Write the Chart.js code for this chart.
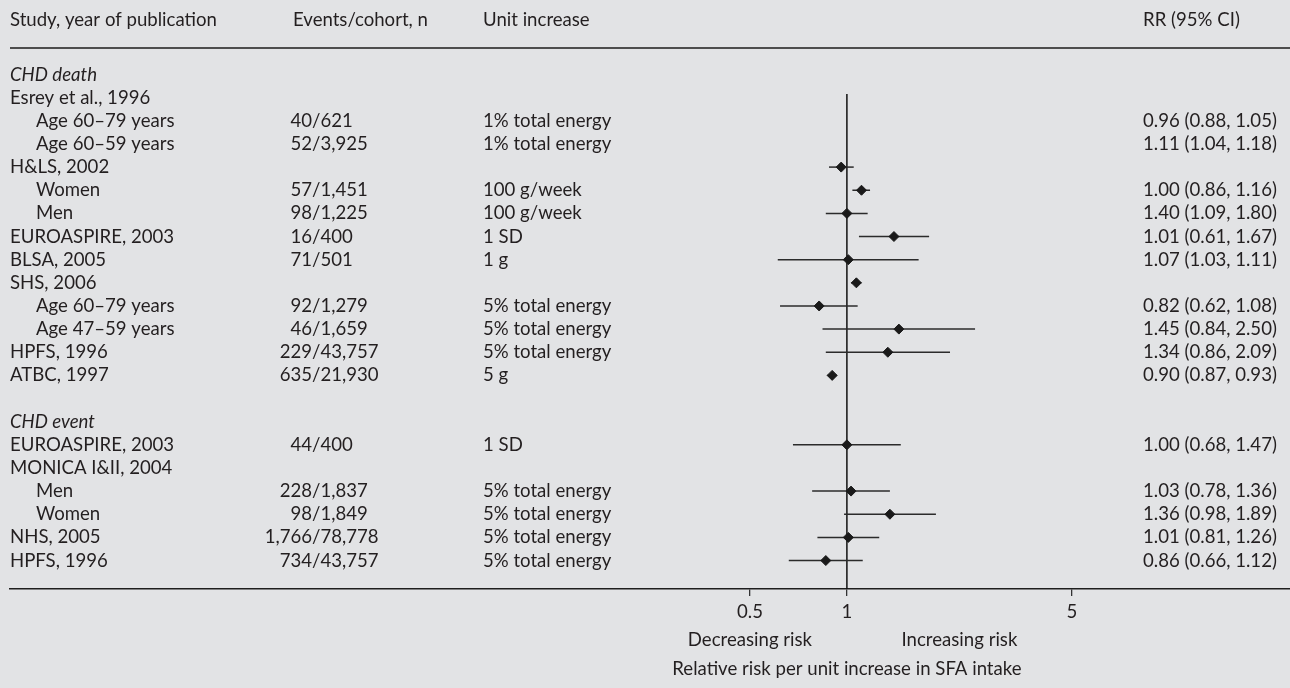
<!DOCTYPE html>
<html>
<head>
<meta charset="utf-8">
<script src="https://cdn.jsdelivr.net/npm/chart.js@4.4.1/dist/chart.umd.min.js"></script>
<style>
  html, body { margin: 0; padding: 0; background: #e2e3e5; }
  canvas { display: block; }
</style>
</head>
<body>
<canvas id="forest" width="1290" height="688"></canvas>
<script>
// table rows, top to bottom
const rowLabels = ['CHD death', 'Esrey et al., 1996', 'Age 60–79 years', 'Age 60–59 years', 'H&LS, 2002', 'Women', 'Men',
  'EUROASPIRE, 2003', 'BLSA, 2005', 'SHS, 2006', 'Age 60–79 years', 'Age 47–59 years', 'HPFS, 1996', 'ATBC, 1997', '',
  'CHD event', 'EUROASPIRE, 2003', 'MONICA I&II, 2004', 'Men', 'Women', 'NHS, 2005', 'HPFS, 1996'];
const sectionRows = [0, 15];
const indentRows = [2, 3, 5, 6, 10, 11, 18, 19];
const headers = ['Study, year of publication', 'Events/cohort, n', 'Unit increase', 'RR (95% CI)'];

// rows that carry the events / unit / RR text
const textRows = [2, 3, 5, 6, 7, 8, 10, 11, 12, 13, 16, 18, 19, 20, 21];
const events = ['40/621', '52/3,925', '57/1,451', '98/1,225', '16/400', '71/501', '92/1,279', '46/1,659',
  '229/43,757', '635/21,930', '44/400', '228/1,837', '98/1,849', '1,766/78,778', '734/43,757'];
const units = ['1% total energy', '1% total energy', '100 g/week', '100 g/week', '1 SD', '1 g', '5% total energy',
  '5% total energy', '5% total energy', '5 g', '1 SD', '5% total energy', '5% total energy', '5% total energy', '5% total energy'];
const rr = [0.96, 1.11, 1.00, 1.40, 1.01, 1.07, 0.82, 1.45, 1.34, 0.90, 1.00, 1.03, 1.36, 1.01, 0.86];
const ciLow = [0.88, 1.04, 0.86, 1.09, 0.61, 1.03, 0.62, 0.84, 0.86, 0.87, 0.68, 0.78, 0.98, 0.81, 0.66];
const ciHigh = [1.05, 1.18, 1.16, 1.80, 1.67, 1.11, 1.08, 2.50, 2.09, 0.93, 1.47, 1.36, 1.89, 1.26, 1.12];
// rows where the diamonds sit in the figure
const pointRows = [4, 5, 6, 7, 8, 9, 10, 11, 12, 13, 16, 18, 19, 20, 21];
const tickValues = [0.5, 1, 5];

const ink = '#231f20';
const fontFamily = 'Lato';
const fontSize = 18.6;
Chart.defaults.font.family = fontFamily;

const fmt = v => v.toFixed(2);

const forestPlugin = {
  id: 'forest',
  beforeDatasetsDraw(chart) {
    const { ctx, scales: { x, y }, chartArea } = chart;
    ctx.save();
    // line of no effect
    const x1 = x.getPixelForValue(1);
    ctx.strokeStyle = '#111';
    ctx.lineWidth = 1.5;
    ctx.beginPath();
    ctx.moveTo(x1, y.getPixelForValue(0.84));
    ctx.lineTo(x1, chartArea.bottom);
    ctx.stroke();
    // confidence intervals
    ctx.strokeStyle = '#2b2b2b';
    ctx.lineWidth = 1.5;
    pointRows.forEach((r, i) => {
      const py = y.getPixelForValue(r);
      ctx.beginPath();
      ctx.moveTo(x.getPixelForValue(ciLow[i]), py);
      ctx.lineTo(x.getPixelForValue(ciHigh[i]), py);
      ctx.stroke();
    });
    ctx.restore();
  },
  afterDraw(chart) {
    const { ctx, scales: { x, y }, chartArea } = chart;
    ctx.save();
    ctx.fillStyle = ink;
    ctx.textBaseline = 'middle';
    ctx.font = fontSize + 'px ' + fontFamily;

    // header + rule
    const hy = y.getPixelForValue(-2.355);
    ctx.fillText(headers[0], 10, hy);
    ctx.fillText(headers[1], 293, hy);
    ctx.fillText(headers[2], 483, hy);
    ctx.fillText(headers[3], 1143, hy);
    ctx.strokeStyle = '#4d4d4d';
    ctx.lineWidth = 2;
    ctx.beginPath();
    ctx.moveTo(chartArea.left, y.getPixelForValue(-1.145));
    ctx.lineTo(chartArea.right, y.getPixelForValue(-1.145));
    ctx.stroke();

    // study column
    rowLabels.forEach((lab, r) => {
      const py = y.getPixelForValue(r);
      ctx.font = (sectionRows.includes(r) ? 'italic ' : '') + fontSize + 'px ' + fontFamily;
      ctx.fillText(lab, indentRows.includes(r) ? 36 : 10, py);
    });
    ctx.font = fontSize + 'px ' + fontFamily;

    // events (aligned on the slash), unit, RR text
    textRows.forEach((r, i) => {
      const py = y.getPixelForValue(r);
      const num = events[i].split('/')[0];
      ctx.fillText(events[i], 312 - ctx.measureText(num).width, py);
      ctx.fillText(units[i], 483, py);
      ctx.fillText(fmt(rr[i]) + ' (' + fmt(ciLow[i]) + ', ' + fmt(ciHigh[i]) + ')', 1143, py);
    });

    // direction labels + axis title
    ctx.textAlign = 'center';
    ctx.fillText('Decreasing risk', x.getPixelForValue(0.5), chartArea.bottom + 51);
    ctx.fillText('Increasing risk', x.getPixelForValue(Math.sqrt(5)), chartArea.bottom + 51);
    ctx.fillText('Relative risk per unit increase in SFA intake', x.getPixelForValue(1), chartArea.bottom + 80);
    ctx.restore();
  }
};

new Chart(document.getElementById('forest'), {
  type: 'scatter',
  data: {
    datasets: [{
      data: pointRows.map((r, i) => ({ x: rr[i], y: r })),
      pointStyle: 'rectRot',
      pointRadius: 5,
      pointHoverRadius: 5,
      backgroundColor: '#1a1a1a',
      borderColor: '#1a1a1a',
      borderWidth: 1
    }]
  },
  options: {
    responsive: false,
    animation: false,
    events: [],
    layout: { autoPadding: false, padding: { left: 10, right: 0, top: 0, bottom: 0 } },
    plugins: { legend: { display: false }, tooltip: { enabled: false } },
    scales: {
      x: {
        type: 'logarithmic',
        min: 0.00252,
        max: 23.76,
        afterBuildTicks: s => { s.ticks = tickValues.map(v => ({ value: v })); },
        afterFit: s => { s.height = 99; },
        ticks: {
          callback: v => String(v),
          color: ink,
          font: { size: fontSize },
          padding: 5,
          maxRotation: 0,
          autoSkip: false
        },
        grid: { drawOnChartArea: false, drawTicks: true, tickLength: 7, color: '#333', lineWidth: 1.3 },
        border: { display: true, color: '#1e1e1e', width: 1.6 }
      },
      y: {
        type: 'linear',
        display: false,
        reverse: true,
        min: -3.22,
        max: 22.23
      }
    }
  },
  plugins: [forestPlugin]
});
</script>
</body>
</html>
